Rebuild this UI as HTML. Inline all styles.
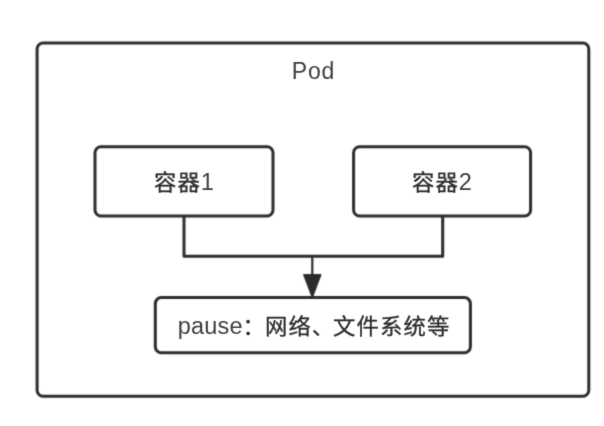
<!DOCTYPE html>
<html lang="zh-CN">
<head>
<meta charset="utf-8">
<title>Pod</title>
<style>
html,body{margin:0;padding:0;background:#fff;}
body{width:604px;height:426px;overflow:hidden;position:relative;}
svg{position:absolute;left:0;top:0;display:block;}
text{font-family:"Liberation Sans","Noto Sans CJK SC",sans-serif;fill:#333;}
.cjk{font-size:21.4px;letter-spacing:1.045px;fill:#2c2c2c;stroke:#2c2c2c;stroke-width:0.3px;}
.lat{font-size:23.5px;fill:#3e3e3e;}
</style>
</head>
<body>
<svg width="604" height="426" viewBox="0 0 604 426">
  <defs>
    <filter id="soft" x="0" y="0" width="604" height="426" filterUnits="userSpaceOnUse" color-interpolation-filters="sRGB">
      <feConvolveMatrix order="3" kernelMatrix="1 4 1 4 16 4 1 4 1" divisor="36" edgeMode="duplicate" preserveAlpha="false"/>
    </filter>
    <filter id="softer" x="0" y="0" width="604" height="426" filterUnits="userSpaceOnUse" color-interpolation-filters="sRGB">
      <feConvolveMatrix order="3" kernelMatrix="1 7 1 7 49 7 1 7 1" divisor="81" edgeMode="duplicate" preserveAlpha="false"/>
    </filter>
  </defs>
  <g filter="url(#soft)">
  <rect x="-10" y="-10" width="624" height="446" fill="#ffffff"/>
  <g fill="none" stroke="#2c2c2c" stroke-width="3.0" stroke-linejoin="round">
    <rect x="37.1" y="43" width="551.7" height="353.3" rx="6" ry="6"/>
    <rect x="95" y="146.7" width="178" height="69.3" rx="6" ry="6"/>
    <rect x="353.6" y="146.7" width="177" height="69.3" rx="6" ry="6"/>
    <rect x="155.3" y="297.6" width="315.1" height="55.1" rx="6" ry="6"/>
    <polyline points="184,216 184,256.2 442.7,256.2 442.7,216"/>
    <line x1="312.3" y1="256.2" x2="312.3" y2="278" stroke-width="2.2"/>
  </g>
  <polygon points="303.5,274.6 321.1,274.6 312.3,298" fill="#2c2c2c" stroke="#2c2c2c" stroke-width="1" stroke-linejoin="round"/>
  </g>
  <g filter="url(#softer)">
  <text x="291.8" y="78.7" class="lat" style="font-size:23px;letter-spacing:0.75px">Pod</text>
  <text class="cjk" transform="translate(154.1 190) scale(1.047 1)">容器</text>
  <text class="lat" x="200.8" y="190.2">1</text>
  <text class="cjk" transform="translate(412.1 190) scale(1.047 1)">容器</text>
  <text class="lat" x="458.8" y="190.2">2</text>
  <text class="lat" x="177.7" y="334.1" style="letter-spacing:0.2px">pause</text>
  <text class="cjk" transform="translate(240.7 333.8) scale(1.047 1)"><tspan dx="1.8">：</tspan><tspan dx="-1.1">网络、</tspan></text>
  <text class="cjk" transform="translate(333.1 333.8) scale(1.047 1)">文件系统等</text>
  </g>
</svg>
</body>
</html>
